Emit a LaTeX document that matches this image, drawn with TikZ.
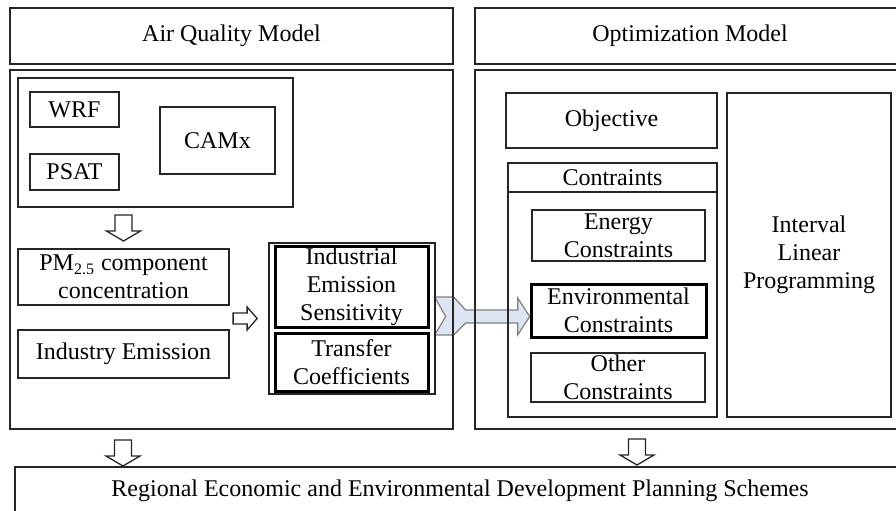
\documentclass[tikz,border=0pt]{standalone}
\usepackage{fontspec}
\setmainfont{Liberation Serif}
\usepackage{tikz}
\usetikzlibrary{calc,backgrounds}

\definecolor{arrowfill}{HTML}{DDE5F2}

\tikzset{
  box/.style={draw=black!85, line width=0.65pt, inner sep=-2pt, align=center,
    font=\fontsize{12}{14}\selectfont},
  boldbox/.style={box, draw=black, line width=1.5pt},
  % a box given by its corners (x1,y1) (x2,y2)
  corners/.style n args={4}{at={({(#1+#3)/2},{(#2+#4)/2})},
    minimum width={(#3-#1)*0.5pt}, minimum height={(#4-#2)*0.5pt}},
  hollow/.style={draw=black!85, line width=0.65pt, fill=white},
  fatarrow/.style={draw=black!50, line width=0.6pt, fill=arrowfill},
  downarr/.pic={\draw[hollow] (-8.5,-13) -- (8.5,-13) -- (8.5,3) -- (17,3) -- (0,13) -- (-17,3) -- (-8.5,3) -- cycle;},
  rightarr/.pic={\draw[hollow] (-12,-5.5) -- (2,-5.5) -- (2,-11.5) -- (12,0) -- (2,11.5) -- (2,5.5) -- (-12,5.5) -- cycle;},
}

\begin{document}
\begin{tikzpicture}[x=0.5pt, y=-0.5pt]
\useasboundingbox (0,0) rectangle (896,510);

% headers
\node[box, corners={10}{8}{453}{64}] (aqhead) {Air Quality Model};
\node[box, corners={475}{8}{905}{64}] (omhead) {Optimization Model};

% air quality part
\node[box, corners={10}{70}{453}{429}] (aqbody) {};
\node[box, corners={18}{78}{293}{207}] (modelgrp) {};
\node[box, corners={30}{92}{119}{127}] (wrf) {WRF};
\node[box, corners={30}{154}{119}{190}] (psat) {PSAT};
\node[box, corners={160}{107}{275}{174}] (camx) {CAMx};
\node[box, corners={18}{249}{229}{305}] (pm) {PM\textsubscript{2.5} component\\concentration};
\node[box, corners={18}{330}{229}{378}] (indem) {Industry Emission};
\node[box, corners={269}{243}{435}{394}] (coefgrp) {};
\node[boldbox, corners={275}{246}{428}{327}] (sens) {Industrial\\Emission\\Sensitivity};
\node[boldbox, corners={275}{333}{428}{391}] (trans) {Transfer\\Coefficients};

% optimization part
\node[box, corners={475}{70}{905}{429}] (ombody) {};
\node[box, corners={506}{93}{717}{148}] (obj) {Objective};
\node[box, corners={508}{163}{717}{417}] (cons) {};
\node[box, corners={508}{163}{717}{192}] (conshead) {Contraints};
\node[box, corners={532}{210}{705}{261}] (energy) {Energy\\Constraints};
\node[boldbox, corners={531}{284}{706}{337}] (env) {Environmental\\Constraints};
\node[box, corners={531}{353}{705}{402}] (other) {Other\\Constraints};
\node[box, corners={727}{93}{891}{417}] (ilp) {Interval\\Linear\\Programming};

% result
\node[box, corners={15}{467}{905}{515}] (plan) {Regional Economic and Environmental Development Planning Schemes};

% arrows
\pic at ($(pm.north)!0.5!(pm.north |- modelgrp.south)$) {downarr};
\pic at ($(indem.east |- coefgrp.west)!0.4!(coefgrp.west)$) {rightarr};
\pic at (123,453) {downarr};
\pic at (637,452) {downarr};

\begin{scope}[on background layer]
\draw[fatarrow] ($(coefgrp.east)+(-1,-21.5)$) -- ++(19,0) -- ++(12,13) -- ++(52,0)
  -- ++(0,-12) -- ++(12,18.5) -- ++(-12,18.5) -- ++(0,-12) -- ++(-52,0)
  -- ++(-12,12) -- ++(-19,0) -- ++(11,-18.5) -- cycle;
\end{scope}
\end{tikzpicture}
\end{document}
